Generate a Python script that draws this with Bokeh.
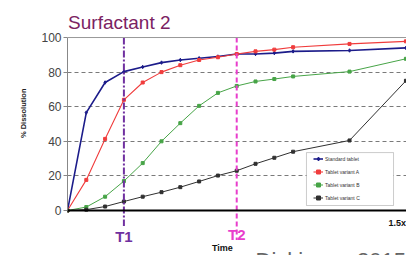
from bokeh.plotting import figure
from bokeh.models import (FixedTicker, Span, Label, BoxAnnotation, Legend, LegendItem, Range1d, Title)
from bokeh.embed import file_html
from bokeh.resources import INLINE

# ---- data ----
time = [0, 1, 2, 3, 4, 5, 6, 7, 8, 9, 10, 11, 12, 15, 18]
standard = [0, 56.6, 74, 80.3, 83, 85.5, 87, 88, 89, 90.5, 90.5, 91, 92, 92.5, 94]
variant_a = [0, 17.7, 41.4, 64, 74, 80, 84, 87, 88.6, 90.5, 92, 93, 94.4, 96.3, 97.8]
variant_b = [0, 2, 8, 17, 27.4, 40, 50.5, 60.5, 68, 72, 74.6, 76, 77.5, 80.3, 87.7]
variant_c = [0, 0.5, 2.3, 5.2, 8, 10.6, 13.5, 16.8, 20.2, 23, 27, 30.5, 34, 40.5, 75]
series_names = ["Standard tablet", "Tablet variant A", "Tablet variant B", "Tablet variant C"]
y_ticks = [0, 20, 40, 60, 80, 100]
t_marks = [3, 9]
t_labels = ["T1", "T2"]

FONT = "Liberation Sans"

p = figure(width=406, height=255, output_backend="svg", toolbar_location=None,
           x_range=Range1d(0, 18.03), y_range=Range1d(-26, 121.4),
           x_axis_location=None, min_border_left=67, min_border_right=0,
           min_border_top=0, min_border_bottom=0)
p.outline_line_color = None
p.background_fill_color = "white"
p.border_fill_color = "white"

p.xgrid.visible = False
p.ygrid.ticker = FixedTicker(ticks=[20, 40, 60, 80])
p.ygrid.grid_line_color = "#7a7a7a"
p.ygrid.grid_line_dash = "4 3"
p.ygrid.grid_line_width = 1

ax = p.yaxis[0]
ax.ticker = FixedTicker(ticks=y_ticks)
ax.bounds = (0, 100)
ax.axis_line_color = "#888888"
ax.major_tick_line_color = "#888888"
ax.major_tick_out = 4
ax.major_tick_in = 0
ax.minor_tick_line_color = None
ax.major_label_text_font = FONT
ax.major_label_text_font_size = "12px"
ax.major_label_text_color = "#444444"
ax.major_label_standoff = 2

ylab = Title(text="% Dissolution", align="right", offset=88, standoff=21,
             text_font=FONT, text_font_size="7.5px", text_font_style="bold",
             text_color="#222222")
p.add_layout(ylab, "left")

p.add_layout(Span(location=100, dimension="width", line_color="#999999", line_width=1))

colors = ["#1c1c8a", "#f03c3c", "#47a447", "#303030"]
widths = [1.6, 1.1, 1.0, 1.0]
markers = ["diamond", "square", "square", "square"]
sizes = [3.5, 3, 3, 3]
series = [standard, variant_a, variant_b, variant_c]
items = []
for name, ys, c, w, m, s in zip(series_names, series, colors, widths, markers, sizes):
    l = p.line(time, ys, line_color=c, line_width=w)
    sc = p.scatter(time, ys, marker=m, size=s, fill_color=c, line_color=c)
    items.append(LegendItem(label=name, renderers=[l, sc]))

p.add_layout(Span(location=0, dimension="width", line_color="black", line_width=2))

# T markers
t_colors = ["#7030a0", "#e83ecc"]
t_dashes = ["7 2 2 2", "5 3"]
t_bottoms = [-9, -17]
t_label_y = [-15, -14]
for t, lab, c, d, b, ly in zip(t_marks, t_labels, t_colors, t_dashes, t_bottoms, t_label_y):
    p.segment(x0=[t], y0=[100], x1=[t], y1=[b], line_color=c, line_width=2, line_dash=d)
    p.add_layout(Label(x=t, y=ly, text=lab, text_align="center", text_baseline="middle",
                       text_color=c, text_font=FONT, text_font_size="15px",
                       text_font_style="bold"))

# legend box
p.add_layout(BoxAnnotation(left=12.71, right=17.34, top=33.5, bottom=2.9,
                           fill_color="white", fill_alpha=1.0,
                           line_color="#555555", line_width=1))
leg = Legend(items=items, location=(246, 51), padding=0, spacing=0, margin=0,
             label_height=13, glyph_height=13, glyph_width=10, label_standoff=2,
             label_text_font=FONT, label_text_font_size="5px", label_text_color="#333333",
             border_line_color=None, background_fill_alpha=0)
p.add_layout(leg)

# texts
p.add_layout(Label(x=0.03, y=108.5, text="Surfactant 2", text_align="left",
                   text_baseline="alphabetic", text_color="#7b2262",
                   text_font=FONT, text_font_size="19px"))
p.add_layout(Label(x=8.24, y=-21.9, text="Time", text_align="center", text_baseline="middle",
                   text_color="#111111", text_font=FONT, text_font_size="9px",
                   text_font_style="bold"))
p.add_layout(Label(x=17.07, y=-7, text="1.5x", text_align="left", text_baseline="middle",
                   text_color="#111111", text_font=FONT, text_font_size="9px",
                   text_font_style="bold"))
p.add_layout(Label(x=10.0, y=-21.4, text="Dickinson 2015", text_align="left",
                   text_baseline="top", text_color="#666666", text_font=FONT,
                   text_font_size="22px"))

open("out.html", "w").write(file_html(p, INLINE))
